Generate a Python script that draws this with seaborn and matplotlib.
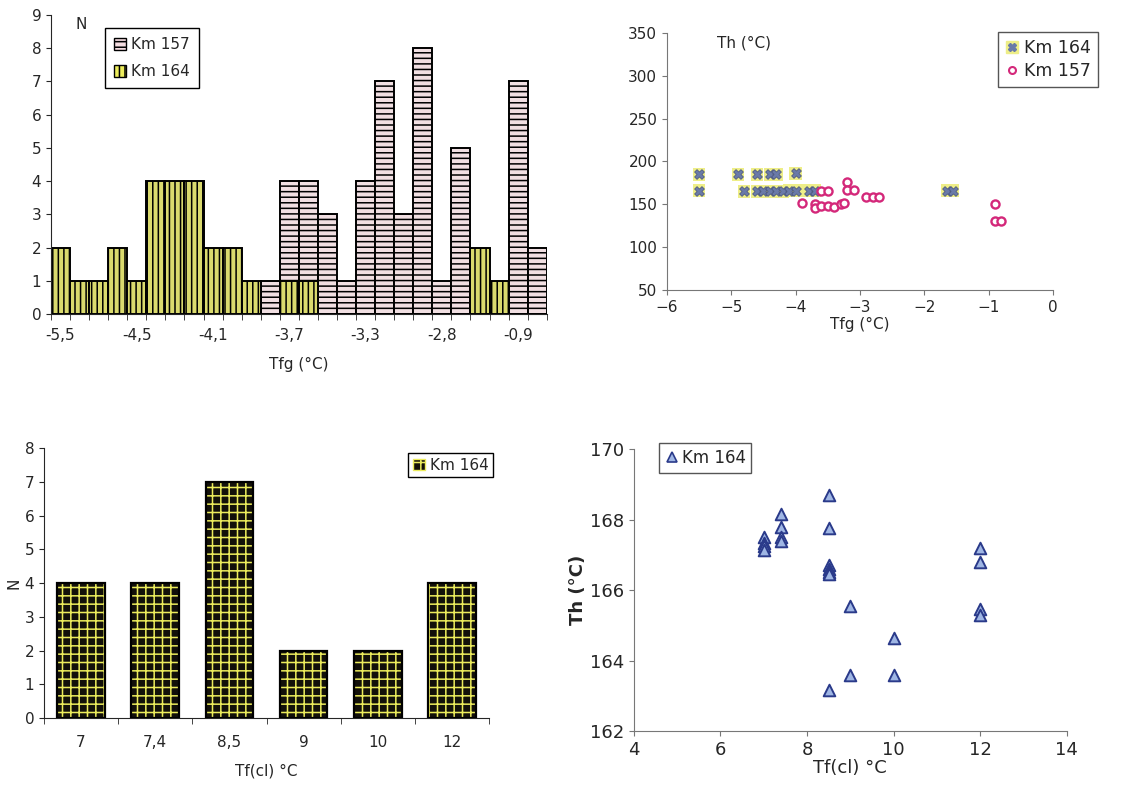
import numpy as np
import pandas as pd
import matplotlib
matplotlib.use('Agg')
import matplotlib.pyplot as plt
import seaborn as sns
from matplotlib.patches import Patch, Rectangle
from matplotlib.lines import Line2D

sns.set_style('ticks')
plt.rcParams['font.family'] = ['DejaVu Sans']
plt.rcParams['hatch.linewidth'] = 1.1

# --- top left: histogram Tfg, 26 bins
tfg_bins = list(range(26))
tfg_labels = ['-5,5', '-4,5', '-4,1', '-3,7', '-3,3', '-2,8', '-0,9']
n_km157 = [0, 0, 0, 0, 0, 0, 0, 0, 0, 0, 0, 1, 4, 4, 3, 1, 4, 7, 3, 8, 1, 5, 0, 0, 7, 2]
n_km164 = [2, 1, 1, 2, 1, 4, 4, 4, 2, 2, 1, 0, 1, 1, 0, 0, 0, 0, 0, 0, 0, 0, 2, 1, 0, 0]

# --- top right: Th vs Tfg
tfg_164 = [-5.5, -5.5, -4.9, -4.8, -4.6, -4.6, -4.5, -4.4, -4.4, -4.3, -4.3, -4.2, -4.1,
           -4.0, -4.0, -3.8, -3.7, -1.65, -1.55]
th_164 = [185, 166, 185, 165, 185, 165, 165, 185, 165, 185, 165, 165, 166,
          186, 166, 166, 166, 166, 166]
tfg_157 = [-3.9, -3.7, -3.7, -3.6, -3.5, -3.4, -3.3, -3.25, -3.6, -3.5, -3.2, -3.2, -3.1,
           -2.9, -2.8, -2.7, -0.9, -0.9, -0.8]
th_157 = [152, 150, 146, 148, 148, 147, 150, 151, 166, 166, 176, 167, 167,
          158, 159, 159, 150, 131, 131]

# --- bottom left: Tf(cl) histogram
tfcl_cats = ['7', '7,4', '8,5', '9', '10', '12']
n_tfcl = [4, 4, 7, 2, 2, 4]

# --- bottom right: Th vs Tf(cl)
tfcl_x = [7, 7, 7, 7, 7.4, 7.4, 7.4, 7.4, 8.5, 8.5, 8.5, 8.5, 8.5, 8.5, 8.5,
          9, 9, 10, 10, 12, 12, 12, 12]
th_y = [167.5, 167.35, 167.25, 167.15, 168.15, 167.8, 167.5, 167.4, 168.7, 167.75, 166.7,
        166.6, 166.5, 166.45, 163.15, 165.55, 163.6, 164.65, 163.6, 167.2, 166.8, 165.45, 165.3]

yellow = '#ecec5c'
pink = '#f4dce0'
magenta = '#d4287a'

fig = plt.figure(figsize=(11.24, 7.96), dpi=100)

# ---------------- panel 1
ax1 = fig.add_axes([0.0454, 0.6055, 0.441, 0.3756])
df1 = pd.DataFrame({
    'bin': tfg_bins * 2,
    'n': n_km157 + n_km164,
    'serie': ['Km 157'] * 26 + ['Km 164'] * 26,
})
sns.barplot(data=df1, x='bin', y='n', hue='serie', hue_order=['Km 157', 'Km 164'],
            dodge=False, width=1.0, palette=[pink, yellow], edgecolor='black',
            linewidth=1.4, legend=False, ax=ax1)
for cont, hatch in zip(ax1.containers, ['---', '|||']):
    for p in cont:
        p.set_hatch(hatch)
        if p.get_height() == 0:
            p.set_visible(False)
ax1.set_xlim(-0.5, 25.5)
ax1.set_ylim(0, 9)
ax1.set_yticks(range(10))
ax1.set_xticks(tfg_bins[::4])
ax1.set_xticklabels(tfg_labels)
ax1.set_xticks(np.arange(-0.5, 26, 1), minor=True)
ax1.tick_params(axis='x', which='major', length=0, pad=10)
ax1.tick_params(axis='x', which='minor', length=4)
ax1.tick_params(labelsize=11)
ax1.set_xlabel('Tfg (°C)', fontsize=11, labelpad=10)
ax1.set_ylabel('')
ax1.text(0.05, 0.995, 'N', transform=ax1.transAxes, fontsize=11, va='top')
leg1 = ax1.legend(handles=[Patch(facecolor=pink, edgecolor='black', hatch='---', label='Km 157'),
                           Patch(facecolor=yellow, edgecolor='black', hatch='|||', label='Km 164')],
                  loc='upper left', bbox_to_anchor=(0.109, 0.957), borderaxespad=0,
                  fontsize=11, fancybox=False, edgecolor='black', framealpha=1,
                  handlelength=0.8, handleheight=0.8, handletextpad=0.3,
                  labelspacing=0.8, borderpad=0.6)
leg1.get_frame().set_linewidth(1.0)
sns.despine(ax=ax1)

# ---------------- panel 2
ax2 = fig.add_axes([0.5934, 0.6357, 0.3434, 0.3229])
sns.scatterplot(x=tfg_164, y=th_164, marker='s', s=80, color='#eeee88', edgecolor='none',
                ax=ax2, zorder=2)
sns.scatterplot(x=tfg_164, y=th_164, marker='X', s=50, color='#6a7aa8', edgecolor='#45507a',
                linewidth=0.5, ax=ax2, zorder=3)
sns.scatterplot(x=tfg_157, y=th_157, marker='o', s=34, facecolor='white', edgecolor=magenta,
                linewidth=1.7, ax=ax2, zorder=4)
ax2.set_xlim(-6, 0)
ax2.set_ylim(50, 350)
ax2.set_yticks(range(50, 351, 50))
ax2.set_xticks(range(-6, 1))
ax2.tick_params(labelsize=11, color='#777777')
for s in ax2.spines.values():
    s.set_color('#777777')
ax2.set_xlabel('Tfg (°C)', fontsize=11, labelpad=2)
ax2.text(0.13, 0.99, 'Th (°C)', transform=ax2.transAxes, fontsize=11, va='top')
h164 = (Line2D([], [], marker='s', ms=8, color='#eeee88', ls=''),
        Line2D([], [], marker='X', ms=6, color='#6a7aa8', ls=''))
h157 = Line2D([], [], marker='o', ms=5, mfc='white', mec=magenta, mew=1.5, ls='')
leg2 = ax2.legend([h164, h157], ['Km 164', 'Km 157'], loc='upper left',
                  bbox_to_anchor=(0.857, 1.004), borderaxespad=0, fontsize=12.5, fancybox=False,
                  edgecolor='#555555', framealpha=1, handlelength=0.8, handletextpad=0.3,
                  borderpad=0.4, labelspacing=0.3)
sns.despine(ax=ax2)

# ---------------- panel 3
ax3 = fig.add_axes([0.0391, 0.098, 0.396, 0.339])
df3 = pd.DataFrame({'tf': tfcl_cats, 'n': n_tfcl})
sns.barplot(data=df3, x='tf', y='n', color='#141008', width=0.64, edgecolor=yellow,
            linewidth=0, ax=ax3)
for p in ax3.patches:
    p.set_hatch('++')
    p.set_edgecolor(yellow)
    ax3.add_patch(Rectangle(p.get_xy(), p.get_width(), p.get_height(), fill=False,
                            edgecolor='black', linewidth=1.6, zorder=3))
ax3.set_ylim(0, 8)
ax3.set_yticks(range(9))
ax3.set_xlim(-0.5, 5.5)
ax3.set_xticks(np.arange(-0.5, 6, 1), minor=True)
ax3.tick_params(axis='x', which='major', length=0, pad=12)
ax3.tick_params(axis='x', which='minor', length=4)
ax3.tick_params(labelsize=11)
ax3.set_xlabel('Tf(cl) °C', fontsize=11, labelpad=10)
ax3.set_ylabel('N', fontsize=11, labelpad=2)
ax3.legend(handles=[Patch(facecolor='#141008', edgecolor=yellow, hatch='++', label='Km 164')],
           loc='upper right', bbox_to_anchor=(1.009, 0.981), borderaxespad=0, fontsize=11,
           fancybox=False, edgecolor='black', framealpha=1, handlelength=0.8,
           handleheight=0.8, handletextpad=0.3, borderpad=0.3)
sns.despine(ax=ax3)

# ---------------- panel 4
ax4 = fig.add_axes([0.564, 0.0817, 0.385, 0.354])
sns.scatterplot(x=tfcl_x, y=th_y, marker='^', s=70, color='#9fb6e4', edgecolor='#2a3a8a',
                linewidth=1.4, ax=ax4, zorder=3)
ax4.set_xlim(4, 14)
ax4.set_ylim(162, 170)
ax4.set_xticks(range(4, 15, 2))
ax4.set_yticks(range(162, 171, 2))
ax4.tick_params(labelsize=13, color='#777777')
for s in ax4.spines.values():
    s.set_color('#777777')
ax4.set_xlabel('Tf(cl) °C', fontsize=13, labelpad=0)
ax4.set_ylabel('Th (°C)', fontsize=13, fontweight='bold', labelpad=2)
h4 = Line2D([], [], marker='^', ms=7, mfc='#9fb6e4', mec='#2a3a8a', mew=1.2, ls='')
ax4.legend([h4], ['Km 164'], loc='upper left', bbox_to_anchor=(0.058, 1.021),
           borderaxespad=0, fontsize=12, fancybox=False, edgecolor='#555555',
           framealpha=1, handlelength=0.8, handletextpad=0.2, borderpad=0.35)
sns.despine(ax=ax4)

fig.savefig('out.png', dpi=100)
